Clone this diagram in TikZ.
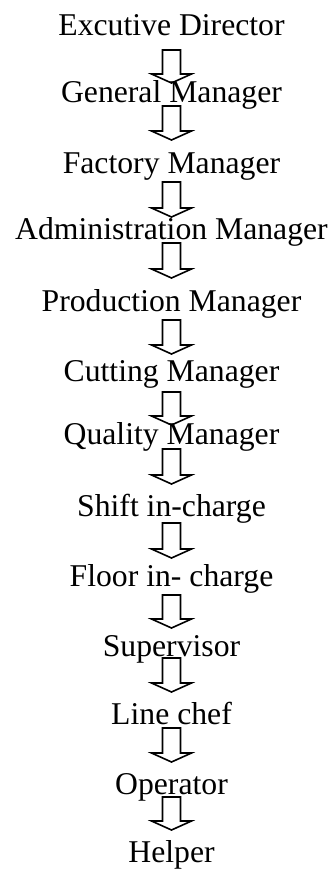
\documentclass[tikz,border=0pt]{standalone}
\usepackage{fontspec}
\setmainfont{Liberation Serif}
\usetikzlibrary{calc}

\tikzset{
  post/.style={anchor=base, font=\fontsize{31.7}{38}\selectfont, inner sep=0pt},
  blockarrow/.style={draw, line width=1.6pt, line join=miter, to path={
    let \p1=(\tikztostart), \p2=(\tikztotarget) in
    (\x1-9pt,\y1) -- (\x1+9pt,\y1) -- (\x1+9pt,\y2+9pt) -- (\x1+20pt,\y2+9pt)
    -- (\x1,\y2) -- (\x1-20pt,\y2+9pt) -- (\x1-9pt,\y2+9pt) -- cycle}}
}

\begin{document}
\begin{tikzpicture}[x=1pt, y=1pt]
				\useasboundingbox (0,0) rectangle (333,-869);
				\node[post] (ed) at (171.5,-36) {Excutive Director};
				\node[post] (gm) at (171.5,-103) {General Manager};
				\node[post] (fm) at (171.5,-174) {Factory Manager};
				\node[post] (am) at (171.5,-239) {Administration Manager};
				\node[post] (pm) at (171.5,-311) {Production Manager};
				\node[post] (cm) at (171.5,-381) {Cutting Manager};
				\node[post] (qm) at (171.5,-444) {Quality Manager};
				\node[post] (si) at (171.5,-516) {Shift in-charge};
				\node[post] (fi) at (171.5,-586) {Floor in- charge};
				\node[post] (sv) at (171.5,-656) {Supervisor};
				\node[post] (lc) at (171.5,-724) {Line chef};
				\node[post] (op) at (171.5,-794) {Operator};
				\node[post] (hp) at (171.5,-862) {Helper};
				% hollow arrows, drawn over the text
				\draw[blockarrow] ([yshift=-14pt]ed.base) to ([yshift=20pt]gm.base);
				\draw[blockarrow] ([yshift=-3pt]gm.base) to ([yshift=34pt]fm.base);
				\draw[blockarrow] ([yshift=-8pt]fm.base) to ([yshift=22pt]am.base);
				\draw[blockarrow] ([yshift=-4pt]am.base) to ([yshift=33pt]pm.base);
				\draw[blockarrow] ([yshift=-9pt]pm.base) to ([yshift=27pt]cm.base);
				\draw[blockarrow] ([yshift=-11pt]cm.base) to ([yshift=19pt]qm.base);
				\draw[blockarrow] ([yshift=-5pt]qm.base) to ([yshift=32pt]si.base);
				\draw[blockarrow] ([yshift=-7pt]si.base) to ([yshift=28pt]fi.base);
				\draw[blockarrow] ([yshift=-9pt]fi.base) to ([yshift=28pt]sv.base);
				\draw[blockarrow] ([yshift=-2pt]sv.base) to ([yshift=32pt]lc.base);
				\draw[blockarrow] ([yshift=-4pt]lc.base) to ([yshift=32pt]op.base);
				\draw[blockarrow] ([yshift=-3pt]op.base) to ([yshift=32pt]hp.base);
			\end{tikzpicture}
\end{document}
